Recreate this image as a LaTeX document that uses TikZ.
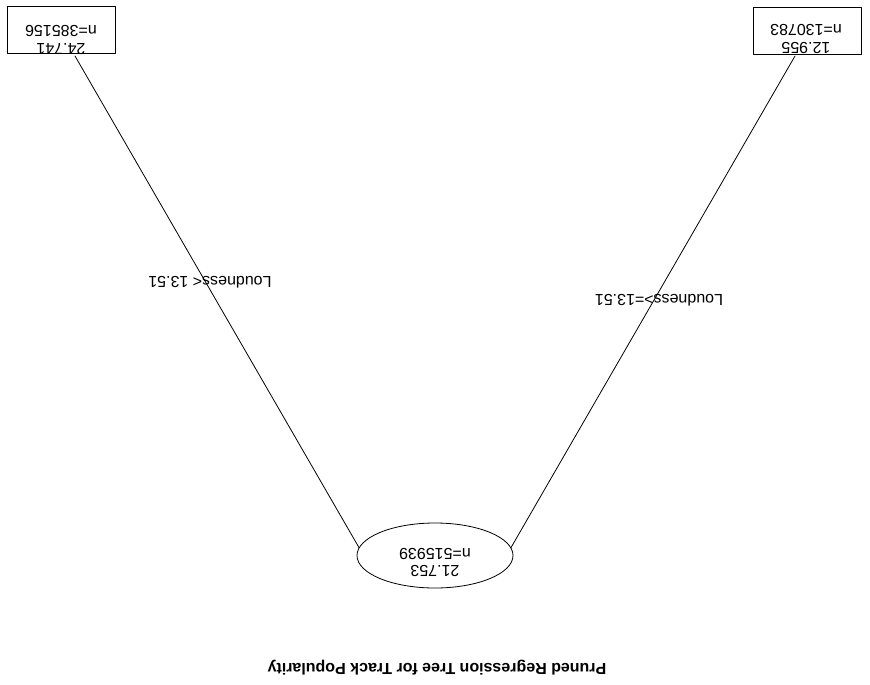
\documentclass[tikz,border=0pt]{standalone}
\usepackage{fontspec}
\setmainfont{Liberation Sans}
\usetikzlibrary{shapes.geometric}

\begin{document}
\begin{tikzpicture}[x=1pt, y=-1pt, line cap=round, line join=round,
	treeline/.style={line width=0.8pt},
	leafbox/.style={draw, line width=0.8pt, minimum width=108pt, minimum height=47pt, inner sep=0pt},
	rootshape/.style={draw, ellipse, line width=0.8pt, minimum width=156pt, minimum height=65pt, inner sep=0pt},
	flipped/.style={rotate=180, inner sep=0pt, align=center, font=\fontsize{16}{17.5}\selectfont},
	splitlabel/.style={flipped}]
	% Page frame (the whole chart is turned upside down)
	\useasboundingbox (0,0) rectangle (870,685);
	
	% Title
	\node[flipped, font=\bfseries\fontsize{16}{18}\selectfont] (title) at (437,668)
	{Pruned Regression Tree for Track Popularity};
	
	% Root node
	\node[rootshape] (root) at (435,555.5) {};
	\node[flipped] (rootlabel) at (435,562.5) {21.753\\n=515939};
	
	% Leaves
	\node[leafbox] (leftleaf) at (61,29.5) {};
	\node[flipped] (leftlabel) at (61,40) {24.741\\n=385156};
	
	\node[leafbox] (rightleaf) at (807.5,30.5) {};
	\node[flipped] (rightlabel) at (806,39) {12.955\\n=130783};
	
	% Free ends of the branches, just under the leaf values
	\coordinate (leftend) at (75,56);
	\coordinate (rightend) at (795,56);
	
	% Branches
	\draw[treeline] (root.174) -- (leftend);
	\draw[treeline] (root.6) -- (rightend);
	
	% Split labels
	\node[splitlabel] (leftsplit) at (210,282) {Loudness< 13.51};
	\node[splitlabel] (rightsplit) at (659,300) {Loudness>=13.51};
\end{tikzpicture}
\end{document}
